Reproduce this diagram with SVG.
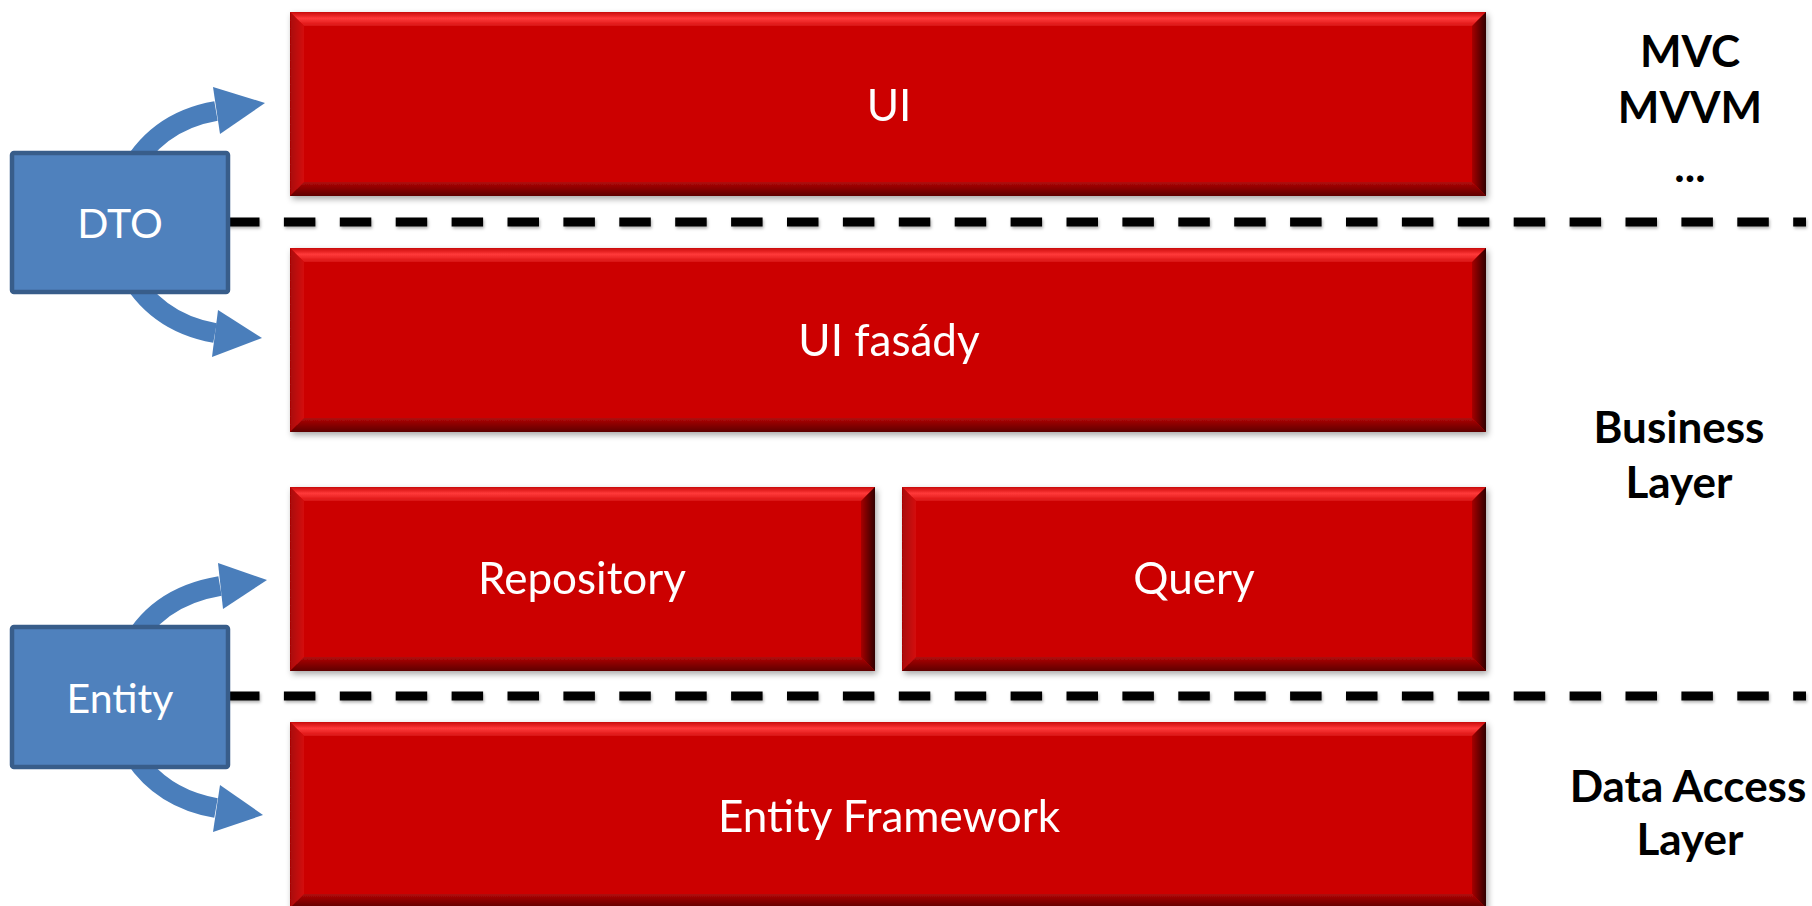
<svg xmlns="http://www.w3.org/2000/svg" width="1812" height="906" viewBox="0 0 1812 906">
<defs>
<style>
.lbl{font-family:Lato,"Open Sans","Liberation Sans",sans-serif;font-size:44px;fill:#ffffff;text-anchor:middle}
.blbl{font-family:Lato,"Open Sans","Liberation Sans",sans-serif;font-size:41px;fill:#ffffff;text-anchor:middle}
.side{font-family:Lato,"Open Sans","Liberation Sans",sans-serif;font-size:44px;font-weight:bold;fill:#000000;text-anchor:middle}
.face{fill:#cc0606}
.bt{fill:url(#gTop)}
.bb{fill:url(#gBot)}
.bl{fill:url(#gLeft)}
.br{fill:url(#gRight)}
.blue{fill:#4f81bd;stroke:#385d8a;stroke-width:4.5}
.shaft{fill:none;stroke:#4a7ebb;stroke-width:20}
.head{fill:#4a7ebb}
.dash{stroke:#000;stroke-width:9;stroke-dasharray:31.5 24.4;fill:none}
</style>
<linearGradient id="gTop" x1="0" y1="0" x2="0" y2="1">
<stop offset="0" stop-color="#c80808"/>
<stop offset="0.45" stop-color="#ff3a3a"/>
<stop offset="1" stop-color="#d81212"/>
</linearGradient>
<linearGradient id="gBot" x1="0" y1="0" x2="0" y2="1">
<stop offset="0" stop-color="#b00808"/>
<stop offset="1" stop-color="#5e0000"/>
</linearGradient>
<linearGradient id="gLeft" x1="0" y1="0" x2="1" y2="0">
<stop offset="0" stop-color="#a80606"/>
<stop offset="1" stop-color="#d41010"/>
</linearGradient>
<linearGradient id="gRight" x1="0" y1="0" x2="1" y2="0">
<stop offset="0" stop-color="#a80404"/>
<stop offset="1" stop-color="#300000"/>
</linearGradient>
<filter id="sh" x="-5%" y="-10%" width="110%" height="125%">
<feDropShadow dx="2" dy="3" stdDeviation="3" flood-color="#000" flood-opacity="0.35"/>
</filter>
<filter id="dsh" filterUnits="userSpaceOnUse" x="0" y="0" width="1812" height="906">
<feDropShadow dx="1" dy="2" stdDeviation="1.5" flood-color="#000" flood-opacity="0.3"/>
</filter>
</defs>
<rect width="1812" height="906" fill="#ffffff"/>

<g id="connectors">
<g filter="url(#dsh)">
<line class="dash" x1="228" y1="222" x2="1806" y2="222"/>
<line class="dash" x1="228" y1="696" x2="1806" y2="696"/>
</g>
<path class="shaft" d="M 126 178 C 145 140, 175 118, 216 111"/>
<polygon class="head" points="213,87 265,103 220,134"/>
<path class="shaft" d="M 126 268 C 145 305, 175 326, 215 333"/>
<polygon class="head" points="218,310 262,338 212,357"/>
<path class="shaft" d="M 128 652 C 146 614, 178 593, 220 586"/>
<polygon class="head" points="218,563 267,580 223,609"/>
<path class="shaft" d="M 126 742 C 145 780, 176 801, 216 808"/>
<polygon class="head" points="220,785 263,815 213,832"/>
</g>

<g id="ui" filter="url(#sh)">
<rect class="face" x="290" y="12" width="1196" height="184"/>
<polygon class="bt" points="290,12 1486,12 1472,26 304,26"/>
<polygon class="bl" points="290,12 304,26 304,182 290,196"/>
<polygon class="br" points="1486,12 1486,196 1472,182 1472,26"/>
<polygon class="bb" points="290,196 1486,196 1472,182 304,182"/>
<text class="lbl" x="889" y="121">UI</text>
</g>

<g id="ui-fasady" filter="url(#sh)">
<rect class="face" x="290" y="248" width="1196" height="184"/>
<polygon class="bt" points="290,248 1486,248 1472,262 304,262"/>
<polygon class="bl" points="290,248 304,262 304,418 290,432"/>
<polygon class="br" points="1486,248 1486,432 1472,418 1472,262"/>
<polygon class="bb" points="290,432 1486,432 1472,418 304,418"/>
<text class="lbl" x="889" y="356">UI fasády</text>
</g>

<g id="repository" filter="url(#sh)">
<rect class="face" x="290" y="487" width="585" height="184"/>
<polygon class="bt" points="290,487 875,487 861,501 304,501"/>
<polygon class="bl" points="290,487 304,501 304,657 290,671"/>
<polygon class="br" points="875,487 875,671 861,657 861,501"/>
<polygon class="bb" points="290,671 875,671 861,657 304,657"/>
<text class="lbl" x="582" y="594">Repository</text>
</g>

<g id="query" filter="url(#sh)">
<rect class="face" x="902" y="487" width="584" height="184"/>
<polygon class="bt" points="902,487 1486,487 1472,501 916,501"/>
<polygon class="bl" points="902,487 916,501 916,657 902,671"/>
<polygon class="br" points="1486,487 1486,671 1472,657 1472,501"/>
<polygon class="bb" points="902,671 1486,671 1472,657 916,657"/>
<text class="lbl" x="1194" y="594">Query</text>
</g>

<g id="entity-framework" filter="url(#sh)">
<rect class="face" x="290" y="722" width="1196" height="186"/>
<polygon class="bt" points="290,722 1486,722 1472,736 304,736"/>
<polygon class="bl" points="290,722 304,736 304,894 290,908"/>
<polygon class="br" points="1486,722 1486,908 1472,894 1472,736"/>
<polygon class="bb" points="290,908 1486,908 1472,894 304,894"/>
<text class="lbl" x="889" y="832">Entity Framework</text>
</g>

<g id="dto">
<rect class="blue" x="12" y="153" width="216" height="139" rx="2"/>
<text class="blbl" x="120" y="238">DTO</text>
</g>

<g id="entity">
<rect class="blue" x="12" y="627" width="216" height="140" rx="2"/>
<text class="blbl" x="120" y="713">Entity</text>
</g>

<g id="label-mvc">
<text class="side" x="1690" y="67">MVC</text>
<text class="side" x="1690" y="123">MVVM</text>
<text class="side" x="1690" y="182">...</text>
</g>

<g id="label-business">
<text class="side" x="1679" y="443">Business</text>
<text class="side" x="1679" y="498">Layer</text>
</g>

<g id="label-dal">
<text class="side" x="1688" y="802">Data Access</text>
<text class="side" x="1690" y="855">Layer</text>
</g>
</svg>
